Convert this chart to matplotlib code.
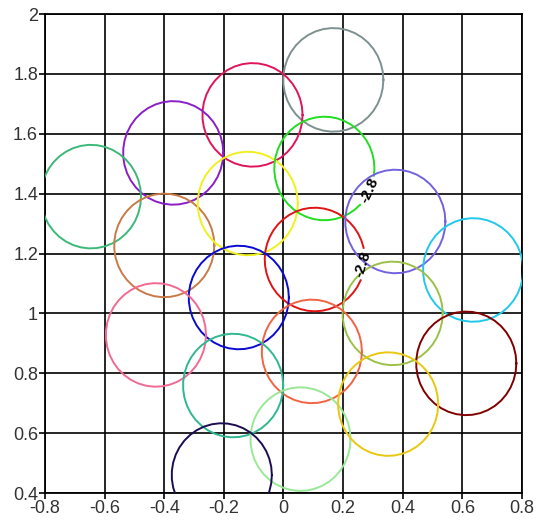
import numpy as np
import matplotlib
matplotlib.use("Agg")
from matplotlib import pyplot as plt

# circle centres, radius shared
cx = [0.167, -0.104, -0.370, -0.646, -0.400, -0.120, 0.137, 0.105, -0.150,
      0.375, 0.636, 0.366, 0.613, 0.095, -0.428, -0.169, 0.057, 0.351, -0.207]
cy = [1.780, 1.663, 1.536, 1.390, 1.227, 1.367, 1.484, 1.180, 1.053,
      1.307, 1.145, 1.000, 0.833, 0.873, 0.928, 0.759, 0.580, 0.697, 0.460]
colors = ["#7f9090", "#e0145a", "#8a1ec8", "#3cb878", "#c87a48", "#f0f020",
          "#22dd22", "#e01414", "#0a0ad2", "#7262e0", "#22c8ea", "#9cc048",
          "#800000", "#f06444", "#f06a92", "#30b890", "#98e898", "#e8c810",
          "#1c0c52"]
radius = 0.168

# contour labels: (circle index, x, y, rotation)
label_text = "-2.8"
label_circle = [6, 7]
label_x = [0.287, 0.265]
label_y = [1.410, 1.165]
label_rot = [65, 72]

fig = plt.figure(figsize=(5.39, 5.24), dpi=100)
ax = fig.add_axes([45 / 539, 1 - 493 / 524, 477 / 539, 479 / 524])

ax.set_xlim(-0.8, 0.8)
ax.set_ylim(0.4, 2.0)
ax.set_xticks(np.arange(-0.8, 0.81, 0.2))
ax.set_yticks(np.arange(0.4, 2.01, 0.2))
ax.set_xticklabels(["-0.8", "-0.6", "-0.4", "-0.2", "0", "0.2", "0.4", "0.6", "0.8"])
ax.set_yticklabels(["0.4", "0.6", "0.8", "1", "1.2", "1.4", "1.6", "1.8", "2"])
ax.grid(True, color="black", linewidth=1.2)
ax.set_axisbelow(True)
for s in ax.spines.values():
    s.set_linewidth(1.3)
ax.tick_params(length=4, width=1.2, color="black", labelsize=13,
               labelcolor="#333333", pad=1)
for lab in ax.get_xticklabels() + ax.get_yticklabels():
    lab.set_family("Liberation Sans")

t = np.linspace(0, 2 * np.pi, 40)
for i in range(len(cx)):
    tt = t
    if i in label_circle:
        # leave a gap in the line where the label sits
        k = label_circle.index(i)
        ang = np.arctan2(label_y[k] - cy[i], label_x[k] - cx[i])
        tt = np.linspace(ang + 0.32, ang + 2 * np.pi - 0.32, 40)
    xs = cx[i] + radius * np.cos(tt)
    ys = cy[i] + radius * 1.03 * np.sin(tt)
    ax.plot(xs, ys, color=colors[i], linewidth=1.4, zorder=3)

for k in range(len(label_x)):
    ax.text(label_x[k], label_y[k], label_text, rotation=label_rot[k],
            ha="center", va="center", fontsize=11, fontweight="bold",
            family="Liberation Sans", color="black", zorder=4)

fig.savefig("out.png", dpi=100)
